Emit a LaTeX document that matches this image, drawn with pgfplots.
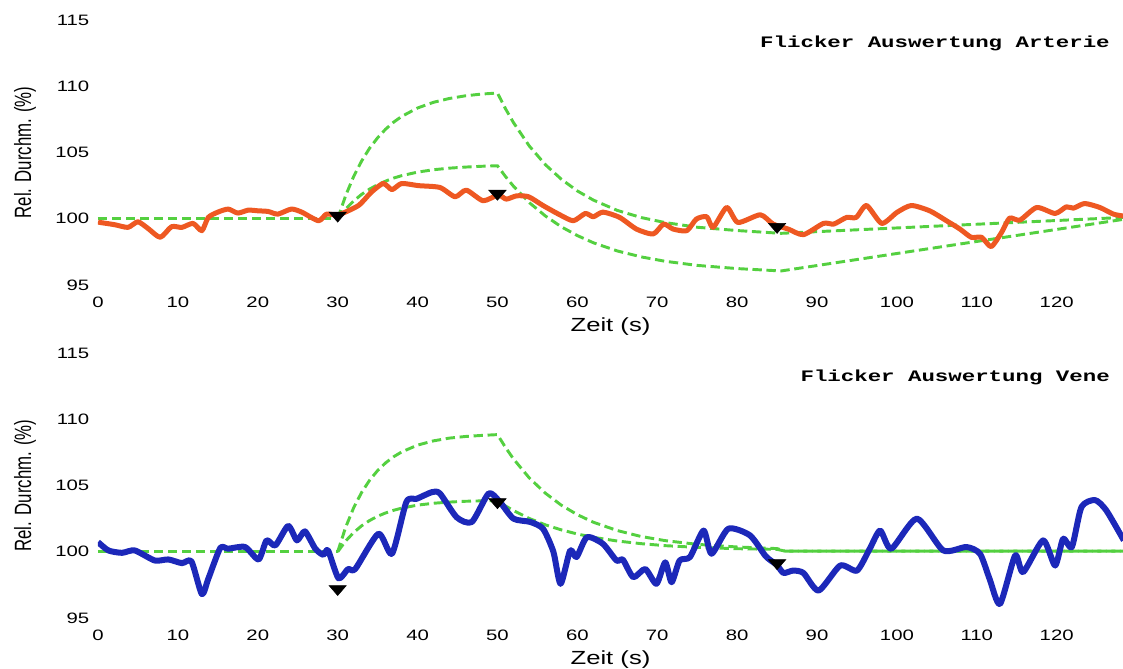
\documentclass[border=0pt]{standalone}
\usepackage{fontspec}
\setmainfont{Liberation Sans}
\newfontfamily\wide[FakeStretch=1.35]{Liberation Sans}
\newfontfamily\cour[FakeStretch=1.4]{Liberation Mono}
\usepackage{graphicx}
\usepackage{pgfplots}
\pgfplotsset{compat=1.18}
\definecolor{orangeC}{RGB}{238,88,34}
\definecolor{blueC}{RGB}{28,40,185}
\definecolor{greenC}{RGB}{84,208,64}
\pgfplotsset{
  flick/.style={
    scale only axis, width=768.75pt, height=198.75pt,
    xmin=0, xmax=128.3, ymin=95, ymax=115,
    xtick={0,10,...,120}, ytick={95,100,...,115},
    axis line style={draw=none}, tick style={draw=none}, major tick length=0pt,
    /pgf/number format/assume math mode=true,
    ticklabel style={font=\wide\fontsize{11.3}{13}\selectfont},
    xticklabel style={yshift=-5.5pt},
    yticklabel style={xshift=-3pt},
    xlabel={Zeit (s)},
    xlabel style={font=\wide\fontsize{14.25}{16}\selectfont, at={(axis description cs:0.5,0)}, anchor=center, yshift=-31pt},
    ylabel={\scalebox{1}[1.4]{Rel. Durchm. (\%)}},
    ylabel style={font=\fontsize{12.6}{14}\selectfont, at={(axis description cs:-0.0712,0.5)}, anchor=center},
  },
  grn/.style={color=greenC, line width=2.2pt, dash pattern=on 7pt off 3.5pt, no marks},
  tri/.style={only marks, mark=triangle*, mark size=5pt, mark options={fill=black, draw=black, yscale=-1, xscale=1.5}},
}
\tikzset{ttl/.style={anchor=east, inner sep=0pt, font=\cour\bfseries\fontsize{12}{14}\selectfont}}
\begin{document}
\begin{tikzpicture}
\useasboundingbox (-73.5pt,-287.25pt) rectangle (768.75pt,213.75pt);
\begin{axis}[flick, at={(0,0)}, anchor=south west]
\addplot[grn] coordinates {(0,100) (30,100)};
\addplot[grn] coordinates {(30,100) (31,101.75) (32,103.19) (33,104.36) (34,105.33) (35,106.11) (36,106.76) (37,107.29) (38,107.72) (40,108.36) (42,108.79) (44,109.08) (46,109.28) (48,109.41) (50,109.49)
 (51,108.31) (52,107.26) (54,105.48) (56,104.08) (58,102.98) (60,102.10) (62,101.41) (65,100.63) (68,100.09) (71,99.71) (75,99.36) (80,99.11) (85.5,98.9) (128.3,100.1)};
\addplot[grn] coordinates {(30,100) (31,100.74) (32,101.34) (33,101.84) (34,102.24) (35,102.57) (36,102.84) (37,103.07) (38,103.25) (40,103.52) (42,103.70) (44,103.82) (46,103.90) (48,103.96) (50,104.0)
 (51,103.19) (52,102.46) (54,101.21) (56,100.21) (58,99.39) (60,98.73) (62,98.19) (65,97.57) (68,97.12) (71,96.79) (75,96.48) (80,96.24) (85.5,96.06) (128.3,99.95)};
\addplot[color=orangeC, line width=3.75pt, line join=round, smooth, tension=0.4] coordinates {
(0,99.75) (0.25,99.72) (2.1,99.55) (3.75,99.35) (5.0,99.77) (6.3,99.25) (7.8,98.6) (9.2,99.4) (10.5,99.35) (11.9,99.65) (13.0,99.1) (13.8,100.1) (15.0,100.5) (16.3,100.73) (17.5,100.43) (18.8,100.65) (20,100.6) (21.3,100.55) (22.5,100.35) (24.2,100.73) (25.5,100.5) (27.6,99.85) (28.6,100.35) (30.1,100.3) (32.6,101.0) (34.2,102.0) (35.7,102.66) (36.8,102.2) (38.0,102.66) (40.1,102.5) (42.8,102.36) (44.7,101.66) (46.1,102.16) (48.2,101.36) (50.1,101.8) (51.1,101.48) (52.4,101.73) (53.9,101.66) (55.7,101.0) (57.8,100.3) (59.5,99.85) (61.0,100.4) (62.0,100.15) (63.2,100.5) (65.3,100.1) (67.4,99.22) (69.5,98.85) (70.8,99.6) (72.0,99.22) (73.7,99.1) (74.9,99.98) (76.2,100.15) (77.0,99.35) (78.7,100.85) (80.1,99.72) (82.9,100.3) (84.5,99.6) (86.4,99.22) (88.3,98.8) (90.8,99.65) (92.1,99.6) (93.7,100.1) (94.9,100.1) (96.2,101.0) (98.1,99.65) (100.0,100.48) (101.8,101.0) (104.1,100.6) (106.2,99.85) (107.9,99.22) (109.3,98.6) (110.6,98.6) (111.8,97.9) (113.1,98.97) (114.1,100.05) (115.4,99.9) (117.5,100.85) (119.8,100.4) (121.2,100.9) (122.1,100.8) (123.5,101.15) (125.4,100.85) (127.1,100.35) (128.4,100.2)};
\addplot[tri] coordinates {(30,100.25) (50,101.9) (85,99.4)};
\node[ttl, xshift=-9.75pt, yshift=-17.25pt] at (rel axis cs:1,1) {Flicker Auswertung Arterie};
\end{axis}
\begin{axis}[flick, at={(0,-249.75pt)}, anchor=south west]
\addplot[grn] coordinates {(0,100) (30,100)};
\addplot[grn] coordinates {(30,100) (31,101.85) (32,103.32) (33,104.48) (34,105.40) (35,106.13) (36,106.71) (37,107.17) (38,107.53) (40,108.05) (42,108.37) (44,108.58) (46,108.70) (48,108.78) (50,108.84)
 (51,107.88) (52,107.01) (54,105.56) (56,104.42) (58,103.51) (60,102.80) (62,102.23) (65,101.60) (68,101.15) (71,100.84) (75,100.56) (80,100.36) (85,100.24) (86,100.05) (128.3,100.05)};
\addplot[grn] coordinates {(30,100) (31,100.81) (32,101.45) (33,101.96) (34,102.36) (35,102.68) (36,102.93) (37,103.13) (38,103.29) (40,103.52) (42,103.66) (44,103.75) (46,103.81) (48,103.84) (50,103.86)
 (51,103.46) (52,103.11) (54,102.51) (56,102.03) (58,101.65) (60,101.34) (62,101.09) (65,100.81) (68,100.61) (71,100.46) (75,100.33) (80,100.23) (85,100.18) (86,100.05) (128.3,100.05)};
\addplot[color=blueC, line width=4.5pt, line join=round, smooth, tension=0.4] coordinates {
(0,100.73) (1.3,100.1) (3.0,99.92) (4.6,100.1) (7.1,99.34) (8.8,99.42) (10.5,99.14) (11.7,99.27) (13.0,96.8) (13.8,97.95) (15.3,100.28) (16.3,100.23) (18.4,100.36) (20.1,99.42) (21.1,100.86) (22.2,100.48) (23.8,101.95) (24.9,100.86) (25.9,101.54) (27.2,100.23) (28.2,99.77) (28.8,100.1) (30.1,98.0) (31.3,98.7) (32.2,98.7) (35.1,101.36) (36.8,99.85) (38.6,103.76) (39.9,104.0) (41.8,104.5) (42.8,104.4) (44.9,102.6) (46.8,102.25) (48.9,104.4) (50.3,103.76) (52.0,102.5) (54.1,102.25) (55.7,101.74) (57.0,100) (57.9,97.58) (59.1,100.1) (59.9,99.6) (61.2,101.1) (63.2,100.6) (64.9,99.34) (65.7,99.4) (67.0,98.08) (68.5,98.7) (69.9,97.58) (71.0,99.2) (71.8,97.7) (72.8,99.34) (74.1,99.6) (75.8,101.6) (76.8,99.85) (78.9,101.74) (81.6,101.24) (83.5,99.72) (84.3,99.3) (85.0,99.0) (85.8,98.4) (87.0,98.58) (88.3,98.4) (90.2,97.07) (92.9,98.96) (95.0,98.58) (96.6,100.23) (97.9,101.6) (99.3,100.23) (102.5,102.5) (105.8,100.1) (108.7,100.36) (110.4,99.85) (111.6,97.95) (112.9,96.06) (114.8,99.72) (115.8,98.46) (118.3,100.86) (119.8,98.96) (120.8,100.98) (121.9,100.36) (123.1,103.38) (124.8,103.9) (126.2,103.13) (128.4,100.86)};
\addplot[tri] coordinates {(30,97.2) (50,103.75) (85,99.15)};
\node[ttl, xshift=-9.75pt, yshift=-18pt] at (rel axis cs:1,1) {Flicker Auswertung Vene};
\end{axis}
\end{tikzpicture}
\end{document}
